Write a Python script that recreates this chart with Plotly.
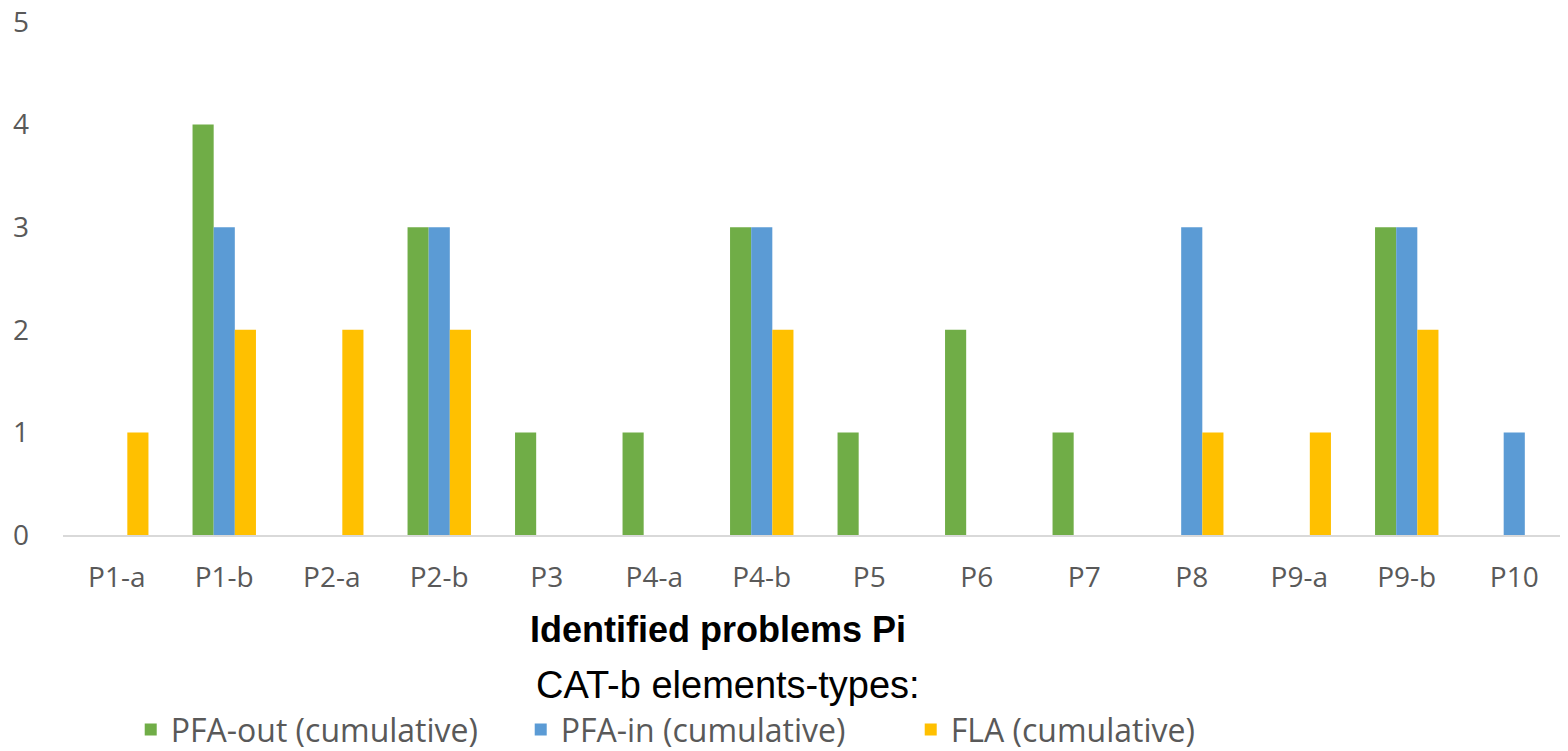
import plotly.graph_objects as go

categories = ["P1-a", "P1-b", "P2-a", "P2-b", "P3", "P4-a", "P4-b", "P5", "P6", "P7", "P8", "P9-a", "P9-b", "P10"]
pfa_out = [0, 4, 0, 3, 1, 1, 3, 1, 2, 1, 0, 0, 3, 0]
pfa_in = [0, 3, 0, 3, 0, 0, 3, 0, 0, 0, 3, 0, 3, 1]
fla = [1, 2, 2, 2, 0, 0, 2, 0, 0, 0, 1, 1, 2, 0]
series_names = ["PFA-out (cumulative)", "PFA-in (cumulative)", "FLA (cumulative)"]
colors = ["#70AD47", "#5B9BD5", "#FFC000"]
x_title = "<b>Identified problems Pi</b>"
legend_title = "CAT-b elements-types:"

fig = go.Figure()
for name, vals, col in zip(series_names, [pfa_out, pfa_in, fla], colors):
    fig.add_trace(go.Bar(x=categories, y=vals, name=name, marker_color=col,
                         marker_line_width=0))

fig.update_layout(
    width=1560, height=743,
    paper_bgcolor="white", plot_bgcolor="white",
    barmode="group", bargap=0.41, bargroupgap=0,
    margin=dict(l=55, r=0, t=14, b=216, autoexpand=False),
    font=dict(family="Open Sans, Noto Sans, sans-serif", color="#595959"),
    xaxis=dict(
        showgrid=False, showline=True, linecolor="#D9D9D9", linewidth=2,
        ticks="", tickfont=dict(size=28, color="#595959"),
        ticklabelstandoff=16, automargin=False, ticklabeloverflow="allow",
    ),
    yaxis=dict(
        range=[0, 5], dtick=1, showgrid=False, zeroline=False, showline=False,
        tickfont=dict(size=28, color="#595959"), ticklabelstandoff=33,
        automargin=False, ticklabeloverflow="allow",
    ),
    legend=dict(
        orientation="h", x=0.045, xanchor="left", y=-0.433, yanchor="bottom",
        font=dict(size=32, color="#595959"),
        itemwidth=30, entrywidthmode="pixels", entrywidth=345,
        bgcolor="rgba(0,0,0,0)",
    ),
    annotations=[
        dict(text=x_title, xref="paper", yref="paper", x=0.435, y=-0.185,
             xanchor="center", yanchor="middle", showarrow=False,
             font=dict(family="Liberation Sans, Arial", size=36, color="black")),
        dict(text=legend_title, xref="paper", yref="paper", x=0.442, y=-0.292,
             xanchor="center", yanchor="middle", showarrow=False,
             font=dict(family="Liberation Sans, Arial", size=38, color="black")),
    ],
)

fig.write_html("out.html")
